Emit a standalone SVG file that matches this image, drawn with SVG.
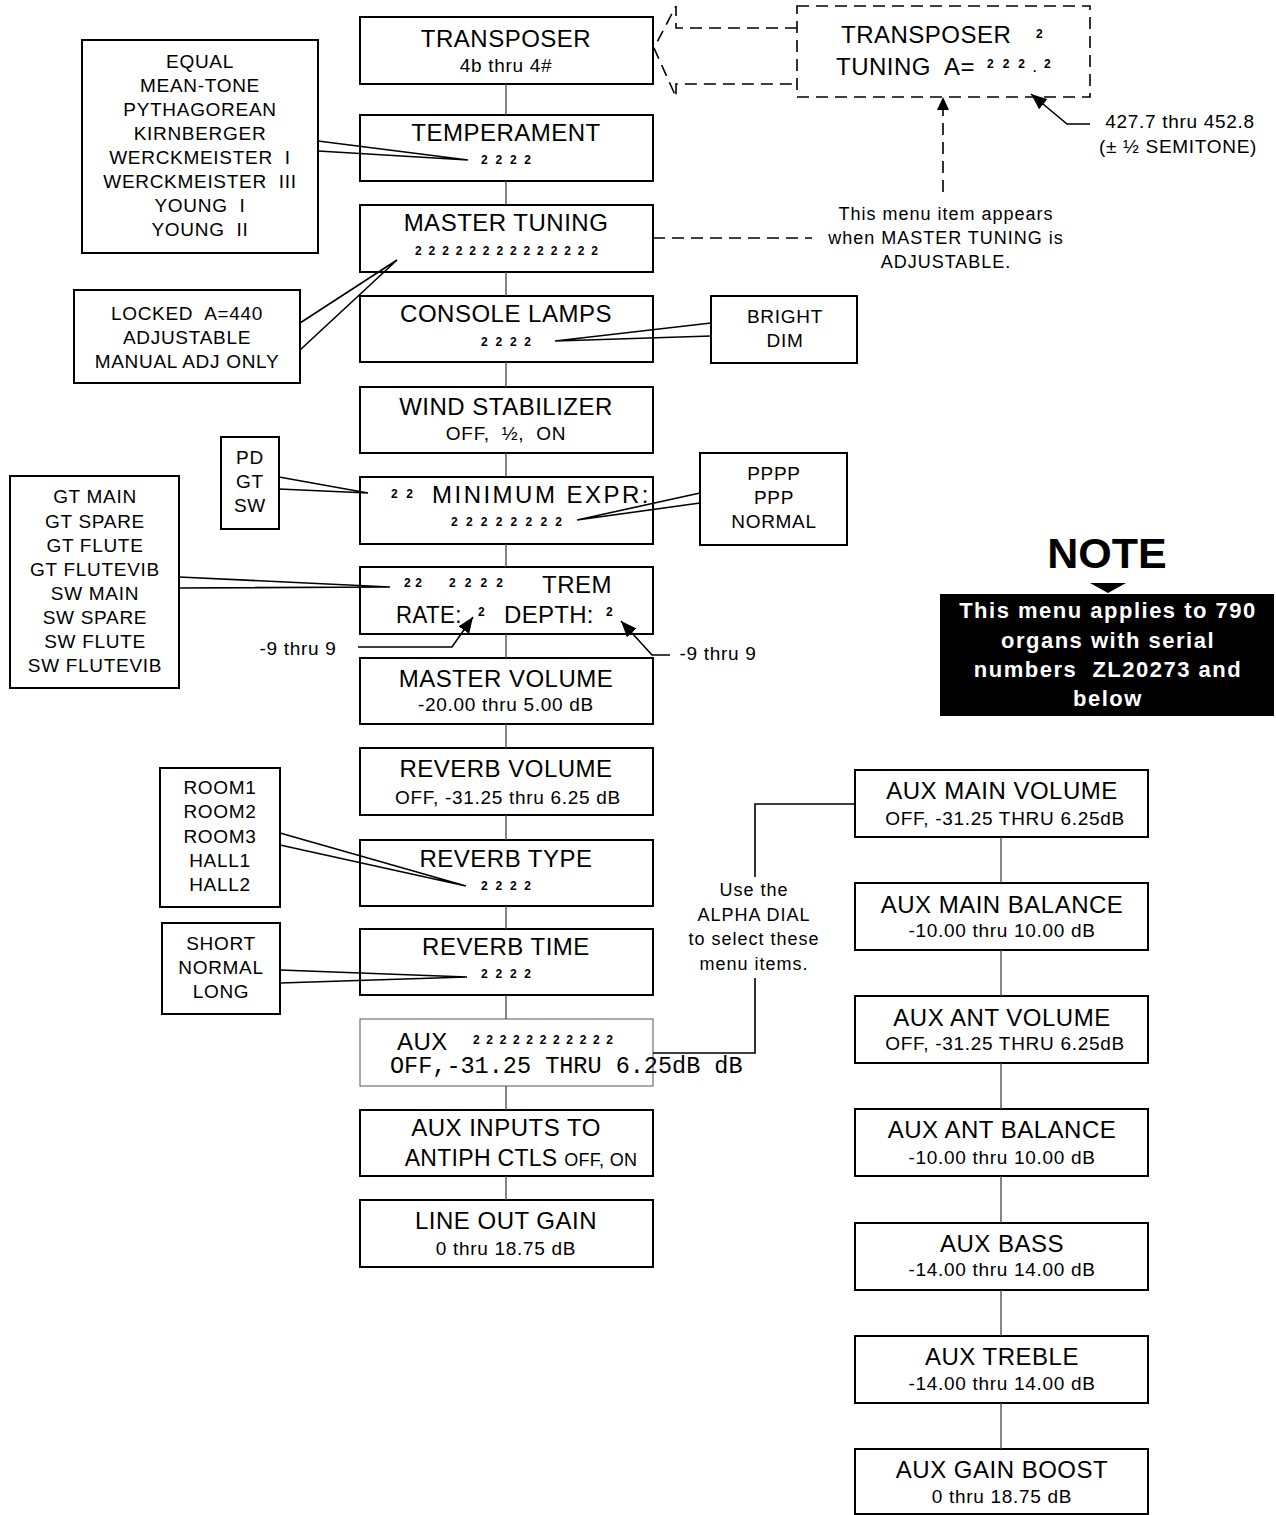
<svg xmlns="http://www.w3.org/2000/svg" width="1276" height="1515" viewBox="0 0 1276 1515">
<style>
.box{fill:#fff;stroke:#000;stroke-width:2}
.t{font-family:'Liberation Sans',Arial,sans-serif;fill:#000}
.ti{font-size:24px;letter-spacing:0.5px;text-anchor:middle}
.ts{font-size:24px;letter-spacing:0.5px}
.sub{font-size:19px;letter-spacing:0.7px;text-anchor:middle}
.dig{font-size:12px;font-weight:bold}
.lbl{font-size:19px;letter-spacing:0.7px;text-anchor:middle}
.nt{font-size:18px;letter-spacing:1px;text-anchor:middle}
.wt{font-size:22px;font-weight:bold;letter-spacing:1.5px;fill:#fff;text-anchor:middle}
.sp{stroke:#444;stroke-width:1.3}
.cl{fill:none;stroke:#000;stroke-width:1.6}
.ds{fill:none;stroke:#000;stroke-width:1.6;stroke-dasharray:12 7}
</style>
<defs>
<marker id="ah" viewBox="0 0 16 13" refX="16" refY="6.5" markerWidth="16" markerHeight="13" markerUnits="userSpaceOnUse" orient="auto">
<path d="M0,0 L16,6.5 L0,13 z" fill="#000"/>
</marker>
</defs>
<rect x="0" y="0" width="1276" height="1515" fill="#fff"/>

<g id="n-transposer">
<rect class="box" x="360" y="17" width="293" height="67"/>
<text class="t ti" x="506" y="47">TRANSPOSER</text>
<text class="t sub" x="506" y="72">4b thru 4#</text>
</g>
<g id="n-temperament">
<rect class="box" x="360" y="115" width="293" height="66"/>
<text class="t ti" x="506" y="141">TEMPERAMENT</text>
<text class="t dig" x="481" y="164" textLength="50" lengthAdjust="spacing">2 2 2 2</text>
</g>
<g id="n-mastertuning">
<rect class="box" x="360" y="205" width="293" height="67"/>
<text class="t ti" x="506" y="231">MASTER TUNING</text>
<text class="t dig" x="415" y="255" textLength="183" lengthAdjust="spacing">2 2 2 2 2 2 2 2 2 2 2 2 2 2</text>
</g>
<g id="n-consolelamps">
<rect class="box" x="360" y="296" width="293" height="66"/>
<text class="t ti" x="506" y="322">CONSOLE LAMPS</text>
<text class="t dig" x="481" y="346" textLength="50" lengthAdjust="spacing">2 2 2 2</text>
</g>
<g id="n-windstab">
<rect class="box" x="360" y="387" width="293" height="66"/>
<text class="t ti" x="506" y="415">WIND STABILIZER</text>
<text class="t sub" x="506" y="440" xml:space="preserve">OFF,  ½,  ON</text>
</g>
<g id="n-minexpr">
<rect class="box" x="360" y="477" width="293" height="67"/>
<text class="t dig" x="391" y="498" textLength="22" lengthAdjust="spacing">2 2</text>
<text class="t ts" x="432" y="503" textLength="217" lengthAdjust="spacing">MINIMUM EXPR:</text>
<text class="t dig" x="451" y="526" textLength="111" lengthAdjust="spacing">2 2 2 2 2 2 2 2</text>
</g>
<g id="n-trem">
<rect class="box" x="360" y="567" width="293" height="67"/>
<text class="t dig" x="404" y="587" textLength="18" lengthAdjust="spacing">2 2</text>
<text class="t dig" x="449" y="587" textLength="54" lengthAdjust="spacing">2 2 2 2</text>
<text class="t ts" x="542" y="593">TREM</text>
<text class="t ts" x="396" y="623" textLength="66" lengthAdjust="spacingAndGlyphs">RATE:</text>
<text class="t dig" x="478" y="616">2</text>
<text class="t ts" x="504" y="623" textLength="90" lengthAdjust="spacing">DEPTH:</text>
<text class="t dig" x="606" y="616">2</text>
</g>
<g id="n-mastervol">
<rect class="box" x="360" y="658" width="293" height="66"/>
<text class="t ti" x="506" y="687">MASTER VOLUME</text>
<text class="t sub" x="506" y="711">-20.00 thru 5.00 dB</text>
</g>
<g id="n-reverbvol">
<rect class="box" x="360" y="748" width="293" height="67"/>
<text class="t ti" x="506" y="777">REVERB VOLUME</text>
<text class="t sub" x="508" y="804">OFF, -31.25 thru 6.25 dB</text>
</g>
<g id="n-reverbtype">
<rect class="box" x="360" y="840" width="293" height="66"/>
<text class="t ti" x="506" y="867">REVERB TYPE</text>
<text class="t dig" x="481" y="890" textLength="50" lengthAdjust="spacing">2 2 2 2</text>
</g>
<g id="n-reverbtime">
<rect class="box" x="360" y="929" width="293" height="66"/>
<text class="t ti" x="506" y="955">REVERB TIME</text>
<text class="t dig" x="481" y="978" textLength="50" lengthAdjust="spacing">2 2 2 2</text>
</g>
<g id="n-aux">
<rect x="360" y="1019" width="293" height="67" fill="#fff" stroke="#555" stroke-width="1"/>
<text class="t ts" x="397" y="1050">AUX</text>
<text class="t dig" x="473" y="1044" textLength="140" lengthAdjust="spacing">2 2 2 2 2 2 2 2 2 2 2</text>
<text x="390" y="1073" font-family="'Liberation Mono','Courier New',monospace" font-size="23.5" fill="#000">OFF,-31.25 THRU 6.25dB dB</text>
</g>
<g id="n-auxinputs">
<rect class="box" x="360" y="1110" width="293" height="66"/>
<text class="t ti" x="506" y="1136">AUX INPUTS TO</text>
<text class="t" x="521" y="1166" font-size="23" letter-spacing="0.3" text-anchor="middle">ANTIPH CTLS <tspan font-size="18">OFF, ON</tspan></text>
</g>
<g id="n-lineout">
<rect class="box" x="360" y="1200" width="293" height="67"/>
<text class="t ti" x="506" y="1229">LINE OUT GAIN</text>
<text class="t sub" x="506" y="1255">0 thru 18.75 dB</text>
</g>

<g id="n-auxmainvol">
<rect class="box" x="855" y="770" width="293" height="67"/>
<text class="t ti" x="1002" y="799">AUX MAIN VOLUME</text>
<text class="t sub" x="1005" y="825">OFF, -31.25 THRU 6.25dB</text>
</g>
<g id="n-auxmainbal">
<rect class="box" x="855" y="883" width="293" height="67"/>
<text class="t ti" x="1002" y="913">AUX MAIN BALANCE</text>
<text class="t sub" x="1002" y="937">-10.00 thru 10.00 dB</text>
</g>
<g id="n-auxantvol">
<rect class="box" x="855" y="996" width="293" height="67"/>
<text class="t ti" x="1002" y="1026">AUX ANT VOLUME</text>
<text class="t sub" x="1005" y="1050">OFF, -31.25 THRU 6.25dB</text>
</g>
<g id="n-auxantbal">
<rect class="box" x="855" y="1109" width="293" height="67"/>
<text class="t ti" x="1002" y="1138">AUX ANT BALANCE</text>
<text class="t sub" x="1002" y="1164">-10.00 thru 10.00 dB</text>
</g>
<g id="n-auxbass">
<rect class="box" x="855" y="1223" width="293" height="67"/>
<text class="t ti" x="1002" y="1252">AUX BASS</text>
<text class="t sub" x="1002" y="1276">-14.00 thru 14.00 dB</text>
</g>
<g id="n-auxtreble">
<rect class="box" x="855" y="1336" width="293" height="67"/>
<text class="t ti" x="1002" y="1365">AUX TREBLE</text>
<text class="t sub" x="1002" y="1390">-14.00 thru 14.00 dB</text>
</g>
<g id="n-auxgain">
<rect class="box" x="855" y="1449" width="293" height="65"/>
<text class="t ti" x="1002" y="1478">AUX GAIN BOOST</text>
<text class="t sub" x="1002" y="1503">0 thru 18.75 dB</text>
</g>

<g id="n-transtuning">
<rect x="797" y="6" width="293" height="91" fill="#fff" class="ds"/>
<text class="t ts" x="841" y="43">TRANSPOSER</text>
<text class="t dig" x="1036" y="38">2</text>
<text class="t ts" x="836" y="75" xml:space="preserve">TUNING  A=</text>
<text class="t dig" x="987" y="68" textLength="38" lengthAdjust="spacing">2 2 2</text>
<text class="t dig" x="1033" y="72">.</text>
<text class="t dig" x="1044" y="68">2</text>
</g>
<g id="n-tempopts">
<rect class="box" x="82" y="40" width="236" height="213"/>
<text class="t lbl" x="200" y="68">EQUAL</text>
<text class="t lbl" x="200" y="92">MEAN-TONE</text>
<text class="t lbl" x="200" y="116">PYTHAGOREAN</text>
<text class="t lbl" x="200" y="140">KIRNBERGER</text>
<text class="t lbl" x="200" y="164" xml:space="preserve">WERCKMEISTER  I</text>
<text class="t lbl" x="200" y="188" xml:space="preserve">WERCKMEISTER  III</text>
<text class="t lbl" x="200" y="212" xml:space="preserve">YOUNG  I</text>
<text class="t lbl" x="200" y="236" xml:space="preserve">YOUNG  II</text>
</g>
<g id="n-tuneopts">
<rect class="box" x="74" y="290" width="226" height="93"/>
<text class="t lbl" x="187" y="320" xml:space="preserve">LOCKED  A=440</text>
<text class="t lbl" x="187" y="344">ADJUSTABLE</text>
<text class="t lbl" x="187" y="368">MANUAL ADJ ONLY</text>
</g>
<g id="n-lampopts">
<rect class="box" x="711" y="296" width="146" height="67"/>
<text class="t lbl" x="785" y="323">BRIGHT</text>
<text class="t lbl" x="785" y="347">DIM</text>
</g>
<g id="n-divopts">
<rect class="box" x="221" y="437" width="58" height="92"/>
<text class="t lbl" x="250" y="464">PD</text>
<text class="t lbl" x="250" y="488">GT</text>
<text class="t lbl" x="250" y="512">SW</text>
</g>
<g id="n-exopts">
<rect class="box" x="700" y="453" width="147" height="92"/>
<text class="t lbl" x="774" y="480">PPPP</text>
<text class="t lbl" x="774" y="504">PPP</text>
<text class="t lbl" x="774" y="528">NORMAL</text>
</g>
<g id="n-tremopts">
<rect class="box" x="10" y="476" width="169" height="212"/>
<text class="t lbl" x="95" y="503">GT MAIN</text>
<text class="t lbl" x="95" y="528">GT SPARE</text>
<text class="t lbl" x="95" y="552">GT FLUTE</text>
<text class="t lbl" x="95" y="576">GT FLUTEVIB</text>
<text class="t lbl" x="95" y="600">SW MAIN</text>
<text class="t lbl" x="95" y="624">SW SPARE</text>
<text class="t lbl" x="95" y="648">SW FLUTE</text>
<text class="t lbl" x="95" y="672">SW FLUTEVIB</text>
</g>
<g id="n-roomopts">
<rect class="box" x="160" y="768" width="120" height="139"/>
<text class="t lbl" x="220" y="794">ROOM1</text>
<text class="t lbl" x="220" y="818">ROOM2</text>
<text class="t lbl" x="220" y="843">ROOM3</text>
<text class="t lbl" x="220" y="867">HALL1</text>
<text class="t lbl" x="220" y="891">HALL2</text>
</g>
<g id="n-timeopts">
<rect class="box" x="162" y="923" width="118" height="91"/>
<text class="t lbl" x="221" y="950">SHORT</text>
<text class="t lbl" x="221" y="974">NORMAL</text>
<text class="t lbl" x="221" y="998">LONG</text>
</g>
<g id="n-note">
<text x="1107" y="568" font-family="'Liberation Sans',Arial,sans-serif" font-size="43" font-weight="bold" text-anchor="middle" fill="#000">NOTE</text>
<path d="M1090,583 L1126,583 L1108,593 z" fill="#000"/>
<rect x="940" y="594" width="334" height="122" fill="#000"/>
<text class="t wt" x="1108" y="618">This menu applies to 790</text>
<text class="t wt" x="1108" y="648">organs with serial</text>
<text class="t wt" x="1108" y="677" xml:space="preserve">numbers  ZL20273 and</text>
<text class="t wt" x="1108" y="706">below</text>
</g>
<g id="n-labels">
<text class="t nt" x="946" y="220">This menu item appears</text>
<text class="t nt" x="946" y="244">when MASTER TUNING is</text>
<text class="t nt" x="946" y="268">ADJUSTABLE.</text>
<text class="t lbl" x="1180" y="128">427.7 thru 452.8</text>
<text class="t lbl" x="1178" y="153">(± ½ SEMITONE)</text>
<text class="t lbl" x="298" y="655">-9 thru 9</text>
<text class="t lbl" x="718" y="660">-9 thru 9</text>
<text class="t nt" x="754" y="896">Use the</text>
<text class="t nt" x="754" y="921">ALPHA DIAL</text>
<text class="t nt" x="754" y="945">to select these</text>
<text class="t nt" x="754" y="970">menu items.</text>
</g>

<g id="connectors">
<g id="spine-main" class="sp">
<line x1="506" y1="84" x2="506" y2="115"/>
<line x1="506" y1="181" x2="506" y2="205"/>
<line x1="506" y1="272" x2="506" y2="296"/>
<line x1="506" y1="362" x2="506" y2="387"/>
<line x1="506" y1="453" x2="506" y2="477"/>
<line x1="506" y1="544" x2="506" y2="567"/>
<line x1="506" y1="634" x2="506" y2="658"/>
<line x1="506" y1="724" x2="506" y2="748"/>
<line x1="506" y1="815" x2="506" y2="840"/>
<line x1="506" y1="906" x2="506" y2="929"/>
<line x1="506" y1="995" x2="506" y2="1019"/>
<line x1="506" y1="1086" x2="506" y2="1110"/>
<line x1="506" y1="1176" x2="506" y2="1200"/>
</g>
<g id="spine-aux" class="sp">
<line x1="1001" y1="837" x2="1001" y2="883"/>
<line x1="1001" y1="950" x2="1001" y2="996"/>
<line x1="1001" y1="1063" x2="1001" y2="1109"/>
<line x1="1001" y1="1176" x2="1001" y2="1223"/>
<line x1="1001" y1="1290" x2="1001" y2="1336"/>
<line x1="1001" y1="1403" x2="1001" y2="1449"/>
</g>
<path class="cl" d="M653,1053 L755,1053 L755,978 M755,877 L755,804 L855,804" stroke-width="1.3"/>
<path class="ds" d="M797,28 L676,28 L676,6 L654,48 L676,97 L676,84 L797,84"/>
<path class="ds" d="M653,238 L812,238"/>
<path class="ds" d="M943,192 L943,110"/>
<path d="M943,97 L937,110 L949,110 z" fill="#000"/>
<polyline class="cl" points="1090,124 1067,124 1031,94" marker-end="url(#ah)"/>
<path class="cl" d="M318,141 L468,160 L318,151"/>
<path class="cl" d="M300,323 L397,260 L300,350"/>
<path class="cl" d="M711,323 L555,341 L711,336"/>
<path class="cl" d="M279,477 L368,493 L279,489"/>
<path class="cl" d="M700,493 L577,520 L700,503"/>
<path class="cl" d="M179,577 L390,587 L179,588"/>
<path class="cl" d="M280,833 L466,886 L280,845"/>
<path class="cl" d="M280,970 L467,977 L280,983"/>
<polyline class="cl" points="358,647 452,647 473,617" marker-end="url(#ah)"/>
<polyline class="cl" points="670,655 652,655 621,621" marker-end="url(#ah)"/>
</g>
</svg>
